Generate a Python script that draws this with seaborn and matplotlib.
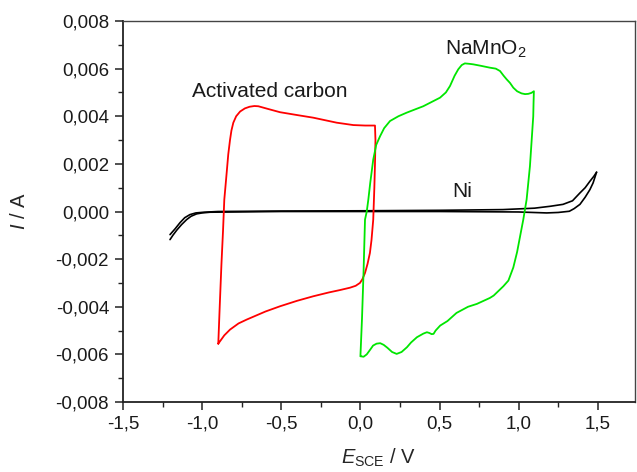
import pandas as pd
import matplotlib
matplotlib.use("Agg")
import matplotlib.pyplot as plt
from matplotlib.ticker import MultipleLocator, FuncFormatter
import seaborn as sns

# --- DATA ---
# Activated carbon loop (E in V, I in A)
carbon_e = [-0.898, -0.889, -0.878, -0.868, -0.860, -0.852, -0.845, -0.835, -0.824, -0.815,
            -0.803, -0.785, -0.760, -0.730, -0.700, -0.670, -0.645, -0.580, -0.508, -0.400,
            -0.298, -0.150, -0.045, 0.030, 0.092, 0.095, 0.092, 0.088, 0.081, 0.070,
            0.060, 0.045, 0.029, 0.012, -0.003, -0.030, -0.066, -0.130, -0.200, -0.298,
            -0.400, -0.508, -0.600, -0.670, -0.719, -0.770, -0.824, -0.860, -0.898]
carbon_i = [-0.00555, -0.0040, -0.0022, -0.0008, 0.0005, 0.0011, 0.00163, 0.0024, 0.0030, 0.0034,
            0.00373, 0.0040, 0.0042, 0.00433, 0.0044, 0.00443, 0.00442, 0.0043, 0.00417, 0.00405,
            0.00394, 0.00373, 0.00363, 0.00361, 0.00361, 0.0030, 0.0020, 0.0010, -0.00034, -0.0012,
            -0.00174, -0.0022, -0.00258, -0.00285, -0.0030, -0.00312, -0.0032, -0.0033, -0.0034, -0.00356,
            -0.00375, -0.00398, -0.0042, -0.0044, -0.00454, -0.0047, -0.00496, -0.0052, -0.00555]

# NaMnO2 loop
namno2_e = [0.000, 0.010, 0.020, 0.029, 0.040, 0.050, 0.062, 0.081, 0.100, 0.124,
            0.150, 0.187, 0.240, 0.292, 0.350, 0.397, 0.450, 0.503, 0.540, 0.566,
            0.595, 0.618, 0.640, 0.660, 0.690, 0.713, 0.760, 0.818, 0.855, 0.882,
            0.905, 0.924, 0.945, 0.966, 0.990, 1.018, 1.040, 1.060, 1.080, 1.096,
            1.094, 1.092, 1.082, 1.071, 1.050, 1.029, 1.010, 0.990, 0.966, 0.935,
            0.903, 0.842, 0.818, 0.736, 0.680, 0.607, 0.550, 0.504, 0.475, 0.462,
            0.450, 0.435, 0.420, 0.397, 0.357, 0.320, 0.294, 0.260, 0.229, 0.200,
            0.170, 0.147, 0.125, 0.102, 0.080, 0.062, 0.040, 0.020, 0.002]
namno2_i = [-0.00608, -0.0045, -0.0025, -0.00034, 0.0000, 0.0005, 0.0012, 0.00218, 0.0028, 0.00316,
            0.0035, 0.0038, 0.0040, 0.00415, 0.0043, 0.00442, 0.0046, 0.00478, 0.0050, 0.00527,
            0.0057, 0.00597, 0.00615, 0.00622, 0.0062, 0.00618, 0.00612, 0.00604, 0.0060, 0.0059,
            0.0057, 0.00555, 0.0054, 0.0052, 0.00505, 0.00496, 0.00493, 0.00494, 0.00498, 0.00505,
            0.0046, 0.0040, 0.0030, 0.0019, 0.0005, -0.00034, -0.0010, -0.0017, -0.00235, -0.0029,
            -0.00314, -0.00353, -0.00363, -0.00388, -0.0040, -0.00426, -0.0046, -0.00479, -0.0050, -0.00514,
            -0.00515, -0.0051, -0.00507, -0.00513, -0.00528, -0.0055, -0.0057, -0.0059, -0.00598, -0.0059,
            -0.00572, -0.0056, -0.00553, -0.00555, -0.00563, -0.0058, -0.0060, -0.0061, -0.00608]

# Ni blank, forward and reverse sweep
ni_fwd_e = [-1.203, -1.170, -1.140, -1.110, -1.077, -1.040, -0.990, -0.900, -0.500, 0.000,
            0.500, 0.900, 1.100, 1.200, 1.280, 1.340, 1.387, 1.420, 1.450, 1.475, 1.492]
ni_fwd_i = [-0.00097, -0.00072, -0.00047, -0.00026, -0.00013, -0.00006, -0.00003, 0.0, 0.00002, 0.00003,
            0.00005, 0.00008, 0.00014, 0.00022, 0.0003, 0.00045, 0.00078, 0.001, 0.00127, 0.00148, 0.00165]
ni_rev_e = [1.492, 1.470, 1.450, 1.420, 1.387, 1.350, 1.320, 1.250, 1.177, 1.000,
            0.500, -0.500, -0.950, -1.000, -1.035, -1.070, -1.098, -1.130, -1.160, -1.185, -1.203]
ni_rev_i = [0.00165, 0.0012, 0.00092, 0.0006, 0.0003, 0.00012, 0.00001, -0.00004, -0.00006, -0.00002,
            0.0, 0.0, -0.00003, -0.00006, -0.0001, -0.0002, -0.00034, -0.00055, -0.00078, -0.001, -0.00118]

# Curve labels
label_carbon = "Activated carbon"
label_namno2 = "NaMnO$_2$"
label_ni = "Ni"

# Axis ticks
x_major = 0.5
y_major = 0.002


def make_plot():
    sns.set_theme(style="ticks")
    plt.rcParams['font.family'] = ['Liberation Sans', 'DejaVu Sans']
    plt.rcParams['mathtext.fontset'] = 'custom'
    plt.rcParams['mathtext.rm'] = 'Liberation Sans'
    plt.rcParams['mathtext.it'] = 'Liberation Sans:italic'
    plt.rcParams['text.color'] = '#1a1a1a'

    fig = plt.figure(figsize=(6.37, 4.72), dpi=100)
    ax = fig.add_axes([0.1931, 0.1483, 0.8038, 0.8072])

    curves = [
        (ni_fwd_e, ni_fwd_i, 'black', 1.2),
        (ni_rev_e, ni_rev_i, 'black', 1.2),
        (carbon_e, carbon_i, '#ff0000', 1.3),
        (namno2_e, namno2_i, '#00e600', 1.3),
    ]
    for xs, ys, col, lw in curves:
        df = pd.DataFrame({'E': xs, 'I': ys})
        sns.lineplot(data=df, x='E', y='I', sort=False, estimator=None,
                     color=col, lw=lw, ax=ax)

    ax.set_xlim(-1.5, 1.735)
    ax.set_ylim(-0.008, 0.008)

    ax.xaxis.set_major_locator(MultipleLocator(x_major))
    ax.xaxis.set_minor_locator(MultipleLocator(x_major / 2))
    ax.yaxis.set_major_locator(MultipleLocator(y_major))
    ax.yaxis.set_minor_locator(MultipleLocator(y_major / 2))
    ax.xaxis.set_major_formatter(FuncFormatter(lambda v, p: f"{v:.1f}".replace('.', ',')))
    ax.yaxis.set_major_formatter(FuncFormatter(lambda v, p: f"{v:.3f}".replace('.', ',')))

    ax.tick_params(which='major', direction='out', length=6, width=1.1,
                   labelsize=13.5, color='#222222', labelcolor='#1a1a1a', pad=4)
    ax.tick_params(which='minor', direction='out', length=3.5, width=1.0, color='#222222')
    ax.tick_params(top=False, right=False, which='both')

    for side in ['left', 'bottom']:
        ax.spines[side].set_linewidth(1.3)
        ax.spines[side].set_color('#222222')
    for side in ['top', 'right']:
        ax.spines[side].set_linewidth(1.0)
        ax.spines[side].set_color('#444444')

    ax.set_xlabel(r"$\mathit{E}_{\mathrm{SCE}}$ / V", fontsize=14.5, labelpad=10)
    ax.set_ylabel(r"$\mathit{I}$ / A", fontsize=14.5, labelpad=19)

    ax.text(-1.064, 0.00504, label_carbon, fontsize=15, ha='left', va='center')
    ax.text(0.532, 0.0068, label_namno2, fontsize=15, ha='left', va='center')
    ax.text(0.578, 0.00085, label_ni, fontsize=15, ha='left', va='center')

    fig.savefig('out.png', dpi=100)


if __name__ == "__main__":
    make_plot()
